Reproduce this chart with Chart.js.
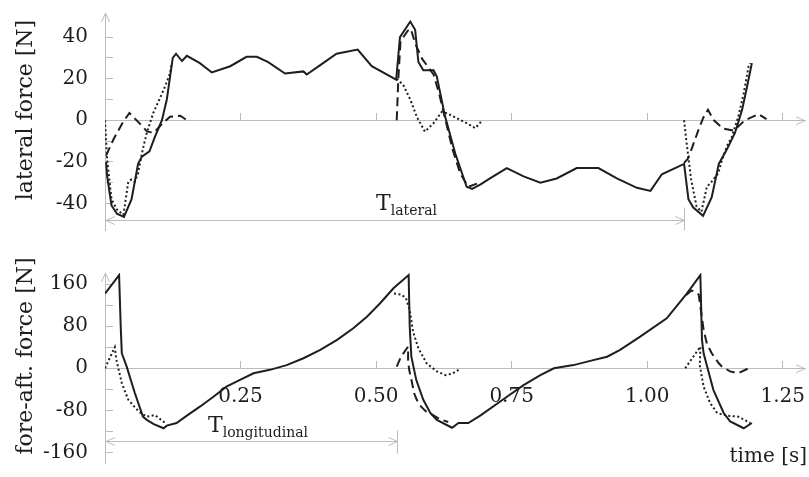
<!DOCTYPE html>
<html>
<head>
<meta charset="utf-8">
<script src="https://cdn.jsdelivr.net/npm/chart.js@4"></script>
<style>
  html, body { margin: 0; padding: 0; background: #fff; }
  #wrap { position: relative; width: 809px; height: 477px; }
  .panel { position: absolute; left: 0; width: 809px; }
</style>
</head>
<body>
<div id="wrap">
  <div class="panel" style="top:0;height:240px"><canvas id="lateralChart" width="809" height="240"></canvas></div>
  <div class="panel" style="top:240px;height:237px"><canvas id="foreAftChart" width="809" height="237"></canvas></div>
</div>
<script>
// ===== DATA (time [s], force [N]); null = break between strides =====
const timeTicks = [0.25, 0.5, 0.75, 1.0, 1.25];
const lateralTicks = [-40, -30, -20, -10, 0, 10, 20, 30, 40];
const foreAftTicks = [-160, -120, -80, -40, 0, 40, 80, 120, 160];

const lateralSolid = [
  [0.002, -20], [0.004, -27], [0.012, -41], [0.022, -45], [0.035, -46.5], [0.049, -38],
  [0.061, -21], [0.068, -17.5], [0.082, -15], [0.092, -8], [0.105, 0], [0.114, 10],
  [0.120, 21], [0.125, 30], [0.131, 32], [0.142, 28.5], [0.151, 31], [0.175, 27.5],
  [0.197, 23], [0.231, 26], [0.261, 30.5], [0.280, 30.5], [0.301, 28], [0.332, 22.5],
  [0.366, 23.5], [0.372, 22], [0.397, 26.5], [0.427, 32], [0.466, 34], [0.492, 26],
  [0.537, 19.5], [0.544, 40], [0.563, 47.5], [0.572, 43.5], [0.578, 28], [0.587, 24],
  [0.606, 24], [0.612, 21], [0.627, 2], [0.646, -16], [0.667, -32], [0.677, -33],
  [0.692, -31], [0.710, -28], [0.741, -23], [0.772, -27], [0.803, -30], [0.833, -28],
  [0.870, -23], [0.910, -23], [0.944, -28], [0.981, -32.5], [1.006, -34], [1.027, -26],
  [1.068, -21], [1.076, -38], [1.085, -42], [1.103, -46], [1.119, -37], [1.132, -21],
  [1.147, -14], [1.162, -6], [1.175, 5], [1.184, 16], [1.193, 27.5]
];
const lateralDashed = [
  [0.002, -17], [0.016, -9], [0.033, -1], [0.045, 3.5], [0.062, -1], [0.078, -5.5],
  [0.090, -6], [0.108, -1], [0.120, 1.7], [0.139, 2.2], [0.151, 0],
  null,
  [0.538, 0], [0.541, 20], [0.545, 38], [0.558, 43], [0.564, 44], [0.572, 37],
  [0.585, 29.5], [0.606, 22], [0.616, 13], [0.628, 0], [0.641, -14], [0.655, -25.5],
  [0.670, -32], [0.686, -30.5],
  null,
  [1.068, -20.5], [1.075, -18.5], [1.083, -13], [1.094, -5], [1.103, 1], [1.112, 5],
  [1.123, 0], [1.140, -4], [1.160, -5], [1.180, 0], [1.193, 1.5], [1.205, 3], [1.220, 0.5]
];
const lateralDotted = [
  [0.000, 0], [0.004, -19], [0.012, -38], [0.022, -43], [0.034, -45.5], [0.043, -29.5],
  [0.049, -28.5], [0.055, -29.5], [0.061, -25.5], [0.068, -16], [0.077, -6], [0.089, 3.5],
  [0.108, 14.5], [0.120, 22.5], [0.123, 27.5],
  null,
  [0.538, 20], [0.550, 17], [0.563, 10], [0.575, 1.7], [0.590, -5.5], [0.606, -1.4],
  [0.621, 4], [0.630, 3.4], [0.649, 1], [0.667, -1.4], [0.683, -3.8], [0.696, 0],
  null,
  [1.068, 0], [1.072, -9.5], [1.081, -28.5], [1.091, -41.5], [1.100, -44], [1.110, -32],
  [1.119, -29.5], [1.131, -25.5], [1.138, -19], [1.147, -12.5], [1.156, -8], [1.168, 1.7],
  [1.178, 13], [1.187, 26], [1.190, 27.5]
];

const foreAftSolid = [
  [0.000, 142], [0.026, 177], [0.029, 79], [0.031, 28.5], [0.040, 3], [0.055, -47],
  [0.070, -92], [0.077, -98], [0.090, -106], [0.108, -114], [0.114, -109], [0.132, -104],
  [0.151, -90], [0.175, -73], [0.200, -54], [0.224, -35], [0.249, -22], [0.274, -9.5],
  [0.304, -3], [0.335, 6], [0.366, 19], [0.397, 35], [0.428, 54], [0.458, 76],
  [0.483, 98], [0.507, 123], [0.532, 152], [0.560, 177], [0.562, 79], [0.565, 22],
  [0.574, -22], [0.587, -60], [0.600, -85], [0.612, -98], [0.640, -113], [0.652, -104],
  [0.670, -104], [0.692, -90], [0.740, -55], [0.772, -32], [0.803, -13], [0.828, 0],
  [0.864, 6], [0.895, 14], [0.926, 22], [0.950, 35], [0.987, 60], [1.036, 95],
  [1.073, 142], [1.098, 177], [1.101, 54], [1.104, 28.5], [1.122, -41], [1.141, -85],
  [1.153, -101], [1.178, -114], [1.193, -104]
];
const foreAftDashed = [
  [0.538, 3], [0.546, 22], [0.559, 41], [0.559, 15], [0.561, -3], [0.566, -26],
  [0.570, -47], [0.575, -60], [0.583, -73], [0.592, -82], [0.605, -89], [0.618, -97],
  [0.633, -102],
  null,
  [1.072, 139], [1.082, 148], [1.095, 140], [1.104, 73], [1.110, 47], [1.119, 28.5],
  [1.132, 9.5], [1.138, 3], [1.153, -6], [1.168, -9.5], [1.187, 0]
];
const foreAftDotted = [
  [0.000, 0], [0.018, 40], [0.021, 16], [0.031, -28.5], [0.043, -60], [0.062, -82],
  [0.077, -92], [0.092, -89], [0.111, -104],
  null,
  [0.533, 142], [0.547, 140], [0.555, 133], [0.562, 111], [0.568, 70], [0.578, 38],
  [0.593, 9.5], [0.612, -6], [0.628, -13], [0.641, -10], [0.652, -3],
  null,
  [1.070, 0], [1.098, 41], [1.097, 5], [1.104, -35], [1.116, -66], [1.129, -85],
  [1.147, -90], [1.168, -92], [1.190, -104]
];

// ===== STYLE =====
const FONT = "'DejaVu Serif', serif";
const INK = "#1e1e1e";
const AXIS = "#bcbcbc";

function toPoints(pairs) {
  let lastX = 0;
  return pairs.map(p => {
    if (!p) return { x: lastX, y: null };
    lastX = p[0];
    return { x: p[0], y: p[1] };
  });
}

function lineSet(label, pairs, dash) {
  return {
    label: label,
    data: toPoints(pairs),
    borderColor: INK,
    borderWidth: 2,
    borderDash: dash,
    borderCapStyle: "butt",
    pointRadius: 0,
    tension: 0,
    spanGaps: false,
    fill: false
  };
}

function chevron(ctx, x, y, dx, dy) {
  const L = 9, W = 4;
  ctx.beginPath();
  ctx.moveTo(x - dx * L - dy * W, y - dy * L + dx * W);
  ctx.lineTo(x, y);
  ctx.lineTo(x - dx * L + dy * W, y - dy * L - dx * W);
  ctx.stroke();
}

// axis arrows, period span, labels
function makeDecor(cfg) {
  return {
    id: "decor",
    afterDraw(chart) {
      const { ctx, chartArea: a, scales: { x, y } } = chart;
      ctx.save();
      ctx.strokeStyle = AXIS;
      ctx.lineWidth = 1;
      const y0 = y.getPixelForValue(0);
      chevron(ctx, a.left + 0.5, a.top, 0, -1);
      chevron(ctx, a.right, y0 + 0.5, 1, 0);

      const sy = Math.round(y.getPixelForValue(cfg.spanAt)) + 0.5;
      const sx = Math.round(x.getPixelForValue(cfg.spanEnd)) + 0.5;
      ctx.beginPath();
      ctx.moveTo(a.left, sy); ctx.lineTo(sx, sy);
      ctx.moveTo(sx, y.getPixelForValue(cfg.spanTop)); ctx.lineTo(sx, y.getPixelForValue(cfg.spanBottom));
      ctx.stroke();
      chevron(ctx, a.left + 1, sy, -1, 0);
      chevron(ctx, sx, sy, 1, 0);

      ctx.fillStyle = INK;
      ctx.textBaseline = "alphabetic";
      ctx.textAlign = "left";
      const lx = x.getPixelForValue(cfg.labelAt[0]);
      const ly = y.getPixelForValue(cfg.labelAt[1]);
      ctx.font = "22px " + FONT;
      ctx.fillText("T", lx, ly);
      const tw = ctx.measureText("T").width;
      ctx.font = "14px " + FONT;
      ctx.fillText(cfg.sub, lx + tw, ly + 5);

      ctx.font = "22px " + FONT;
      ctx.textAlign = "center";
      ctx.textBaseline = "middle";
      ctx.translate(26, cfg.titleY);
      ctx.rotate(-Math.PI / 2);
      ctx.fillText(cfg.title, 0, 0);
      ctx.setTransform(1, 0, 0, 1, 0, 0);

      if (cfg.timeTitle) {
        ctx.font = "20px " + FONT;
        ctx.textAlign = "right";
        ctx.textBaseline = "alphabetic";
        ctx.fillText(cfg.timeTitle, chart.width - 2, a.bottom - 1);
      }
      ctx.restore();
    }
  };
}

function makeChart(id, sets, yTicks, yMin, yMax, labelStep, showX, pad, decor) {
  return new Chart(document.getElementById(id), {
    type: "line",
    data: { datasets: sets },
    options: {
      responsive: false,
      animation: false,
      devicePixelRatio: 1,
      layout: { padding: pad },
      plugins: { legend: { display: false }, tooltip: { enabled: false } },
      scales: {
        x: {
          type: "linear",
          min: 0,
          max: 1.291,
          position: { y: 0 },
          afterBuildTicks: s => { s.ticks = timeTicks.map(v => ({ value: v })); },
          afterFit: s => { s.paddingLeft = 0; s.paddingRight = 0; },
          ticks: {
            display: showX,
            padding: 25,
            color: INK,
            font: { family: FONT, size: 20, lineHeight: 1.2 },
            maxRotation: 0,
            autoSkip: false,
            callback: v => v.toFixed(2)
          },
          grid: { drawOnChartArea: false, tickLength: -8, color: AXIS },
          border: { color: AXIS }
        },
        y: {
          type: "linear",
          min: yMin,
          max: yMax,
          afterBuildTicks: s => { s.ticks = yTicks.map(v => ({ value: v })); },
          afterFit: s => { s.width = 105; s.paddingTop = 0; s.paddingBottom = 0; },
          ticks: {
            padding: 25,
            color: INK,
            font: { family: FONT, size: 20, lineHeight: 1 },
            autoSkip: false,
            callback: v => (v % labelStep === 0 ? String(v) : "")
          },
          grid: { drawOnChartArea: false, tickLength: -8, color: AXIS },
          border: { color: AXIS }
        }
      }
    },
    plugins: [makeDecor(decor)]
  });
}

// ===== CHARTS =====
const lateralChart = makeChart(
  "lateralChart",
  [
    lineSet("solid", lateralSolid, []),
    lineSet("dashed", lateralDashed, [9, 5]),
    lineSet("dotted", lateralDotted, [2, 2.5])
  ],
  lateralTicks, -52.8, 51.6, 20, false,
  { left: 0, right: 4, top: 13, bottom: 10 },
  {
    spanAt: -48, spanEnd: 1.068, spanTop: -42, spanBottom: -53,
    labelAt: [0.5, -43], sub: "lateral",
    title: "lateral force [N]", titleY: 110
  }
);

const foreAftChart = makeChart(
  "foreAftChart",
  [
    lineSet("solid", foreAftSolid, []),
    lineSet("dashed", foreAftDashed, [9, 5]),
    lineSet("dotted", foreAftDotted, [2, 2.5])
  ],
  foreAftTicks, -180, 181, 80, true,
  { left: 0, right: 4, top: 33, bottom: 14 },
  {
    spanAt: -139, spanEnd: 0.539, spanTop: -118, spanBottom: -162,
    labelAt: [0.19, -121], sub: "longitudinal",
    title: "fore-aft. force [N]", titleY: 116,
    timeTitle: "time [s]"
  }
);
</script>
</body>
</html>
